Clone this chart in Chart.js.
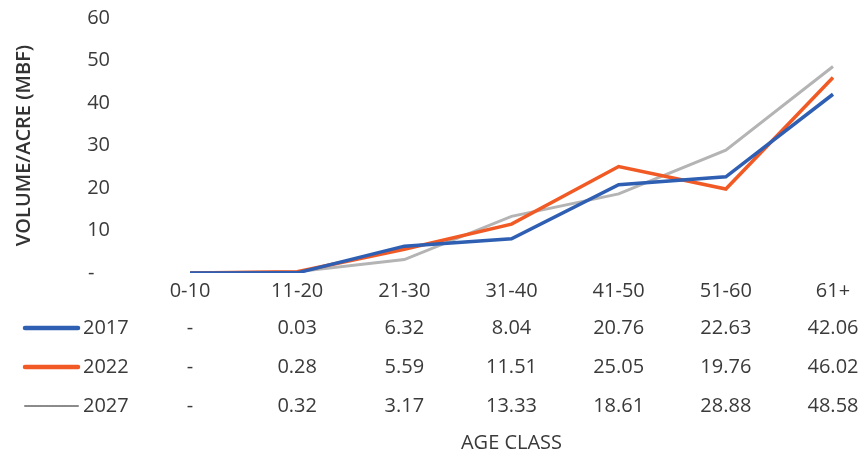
<!DOCTYPE html>
<html>
<head>
<meta charset="utf-8">
<script src="https://cdn.jsdelivr.net/npm/chart.js@4/dist/chart.umd.min.js"></script>
<style>
  html, body { margin:0; padding:0; background:#fff; }
  #wrap { width:863px; height:455px; }
</style>
</head>
<body>
<div id="wrap"><canvas id="chart"></canvas></div>
<script>
const AGE_CLASSES = ['0-10','11-20','21-30','31-40','41-50','51-60','61+'];
const YEARS       = ['2017','2022','2027'];
const VOL_2017    = [0, 0.03, 6.32, 8.04, 20.76, 22.63, 42.06];
const VOL_2022    = [0, 0.28, 5.59, 11.51, 25.05, 19.76, 46.02];
const VOL_2027    = [0, 0.32, 3.17, 13.33, 18.61, 28.88, 48.58];
const Y_TICKS     = [0, 10, 20, 30, 40, 50, 60];

const COLORS = ['#2f5fb3', '#f15a24', '#b4b4b4'];
const FONT = "'Open Sans', sans-serif";
const TXT = '#3a3a3a';

function fmtCell(v) {
  return v === 0 ? '-' : v.toFixed(2);
}

// data table + legend keys under the x axis
const tablePlugin = {
  id: 'dataTable',
  afterDraw(chart) {
    const ctx = chart.ctx;
    const xs = chart.scales.x;
    const rowsY = [328, 367, 406];
    const series = [VOL_2017, VOL_2022, VOL_2027];
    ctx.save();
    ctx.font = '20px ' + FONT;
    ctx.fillStyle = TXT;
    ctx.textBaseline = 'middle';
    series.forEach((vals, r) => {
      const y = rowsY[r];
      // legend key
      ctx.beginPath();
      ctx.strokeStyle = COLORS[r];
      ctx.lineCap = 'round';
      if (r === 2) { ctx.lineWidth = 2; ctx.setLineDash([2, 1]); ctx.strokeStyle = '#8a8a8a'; }
      else { ctx.lineWidth = 4.5; ctx.setLineDash([]); }
      ctx.moveTo(25, y); ctx.lineTo(78, y);
      ctx.stroke();
      ctx.setLineDash([]);
      ctx.textAlign = 'left';
      ctx.fillText(YEARS[r], 83, y);
      ctx.textAlign = 'center';
      vals.forEach((v, i) => {
        ctx.fillText(fmtCell(v), xs.getPixelForValue(i), y);
      });
    });
    ctx.restore();
  }
};

new Chart(document.getElementById('chart'), {
  type: 'line',
  data: {
    labels: AGE_CLASSES,
    datasets: [
      { label: YEARS[0], data: VOL_2017, borderColor: COLORS[0], backgroundColor: COLORS[0], borderWidth: 3.5, pointRadius: 0, tension: 0 },
      { label: YEARS[1], data: VOL_2022, borderColor: COLORS[1], backgroundColor: COLORS[1], borderWidth: 3.5, pointRadius: 0, tension: 0 },
      { label: YEARS[2], data: VOL_2027, borderColor: COLORS[2], backgroundColor: COLORS[2], borderWidth: 3, pointRadius: 0, tension: 0 }
    ]
  },
  options: {
    responsive: true, maintainAspectRatio: false, animation: false,
    layout: { padding: { left: 0, right: 30, top: 18, bottom: 0 } },
    plugins: { legend: { display: false }, tooltip: { enabled: false } },
    scales: {
      x: {
        offset: false,
        grid: { display: false, drawTicks: false },
        border: { display: false },
        ticks: { color: TXT, font: { family: FONT, size: 20 }, padding: 6, maxRotation: 0, autoSkip: false },
        title: { display: true, text: 'AGE CLASS', color: TXT, font: { family: FONT, size: 20 }, padding: { top: 122, bottom: 0 } }
      },
      y: {
        min: 0, max: 60,
        afterBuildTicks: s => { s.ticks = Y_TICKS.map(v => ({ value: v })); },
        grid: { display: false, drawTicks: false },
        border: { display: false },
        ticks: { color: TXT, font: { family: FONT, size: 20 }, padding: 80, callback: v => v === 0 ? '-   ' : v },
        title: { display: true, text: 'VOLUME/ACRE (MBF)', color: '#333', font: { family: FONT, size: 20, weight: '600' }, padding: { top: 12, bottom: 0 } },
        afterFit: s => { s.width = 190; s.paddingTop = 0; s.paddingBottom = 0; }
      }
    }
  },
  plugins: [tablePlugin]
});
</script>
</body>
</html>
